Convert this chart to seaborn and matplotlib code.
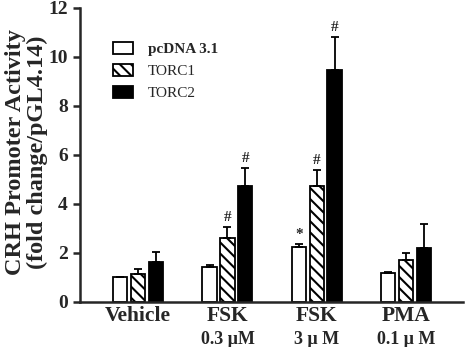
import seaborn as sns
import matplotlib.pyplot as plt
import pandas as pd

# values
treatments = ["Vehicle", "FSK", "FSK ", "PMA"]
doses = ["", "0.3 \u03bcM", "3 \u03bc M", "0.1 \u03bc M"]
constructs = ["pcDNA 3.1", "TORC1", "TORC2"]
pcdna = [1.0, 1.42, 2.25, 1.18]
pcdna_err = [0.0, 0.1, 0.12, 0.02]
torc1 = [1.12, 2.6, 4.75, 1.72]
torc1_err = [0.22, 0.45, 0.62, 0.27]
torc2 = [1.62, 4.75, 9.45, 2.22]
torc2_err = [0.42, 0.7, 1.35, 0.97]
marks = {("TORC1", 1): "#", ("TORC2", 1): "#", ("pcDNA 3.1", 2): "*",
         ("TORC1", 2): "#", ("TORC2", 2): "#"}

rows = []
for name, vals, errs in zip(constructs, [pcdna, torc1, torc2],
                            [pcdna_err, torc1_err, torc2_err]):
    for i, t in enumerate(treatments):
        rows.append({"treatment": t, "construct": name,
                     "value": vals[i], "err": errs[i], "idx": i})
df = pd.DataFrame(rows)

sns.set_style("ticks")
plt.rcParams["font.family"] = ["Liberation Serif", "DejaVu Serif"]
plt.rcParams["hatch.linewidth"] = 1.5

fig = plt.figure(figsize=(4.66, 3.47), dpi=100)
ax = fig.add_axes([0.172, 0.130, 0.822, 0.847])

sns.barplot(data=df, x="treatment", y="value", hue="construct",
            order=treatments, hue_order=constructs,
            palette=["white", "white", "black"], edgecolor="black",
            linewidth=1.3, width=0.6, gap=0.2, errorbar=None,
            legend=False, ax=ax)

for patch in ax.containers[1]:
    patch.set_hatch("\\\\\\")

for k, name in enumerate(constructs):
    sub = df[df["construct"] == name].sort_values("idx")
    xs = [p.get_x() + p.get_width() / 2 for p in ax.containers[k]]
    ys = sub["value"].tolist()
    es = sub["err"].tolist()
    ax.errorbar(xs, ys, yerr=[[0] * len(es), es], fmt="none",
                ecolor="black", elinewidth=1.3, capsize=3, capthick=1.3)
    for i in range(len(xs)):
        if (name, i) in marks:
            ax.text(xs[i], ys[i] + es[i] + 0.12, marks[(name, i)],
                    ha="center", va="bottom", fontsize=11, fontweight="bold")

leg = ax.legend([c[0] for c in ax.containers], constructs, loc="upper left",
                bbox_to_anchor=(0.05, 0.93), frameon=False, fontsize=11,
                handlelength=1.3, handleheight=0.8, labelspacing=0.5,
                handletextpad=1.0)
leg.get_texts()[0].set_fontweight("bold")

ax.set_xlim(-0.65, 3.64)
ax.set_ylim(0, 12)
ax.set_yticks(range(0, 13, 2))
ax.set_xticks(range(4))
ax.set_xticklabels(["Vehicle", "FSK", "FSK", "PMA"], fontsize=15.5,
                   fontweight="bold")
for i, d in enumerate(doses):
    ax.text(i, -0.098, d, transform=ax.get_xaxis_transform(), ha="center",
            va="top", fontsize=13, fontweight="bold")
ax.set_xlabel("")
ax.set_ylabel("CRH Promoter Activity\n(fold change/pGL4.14)", fontsize=17.5,
              fontweight="bold", linespacing=1.05, va="center")
ax.yaxis.set_label_coords(-0.14, 0.51)
for lab in ax.get_yticklabels():
    lab.set_fontweight("bold")
    lab.set_fontsize(14)
ax.tick_params(axis="y", direction="out", length=5, width=1.8, pad=4)
ax.tick_params(axis="x", length=0, pad=3)
for s in ["left", "bottom"]:
    ax.spines[s].set_linewidth(1.8)
sns.despine(ax=ax)

fig.savefig("out.png", dpi=100)
